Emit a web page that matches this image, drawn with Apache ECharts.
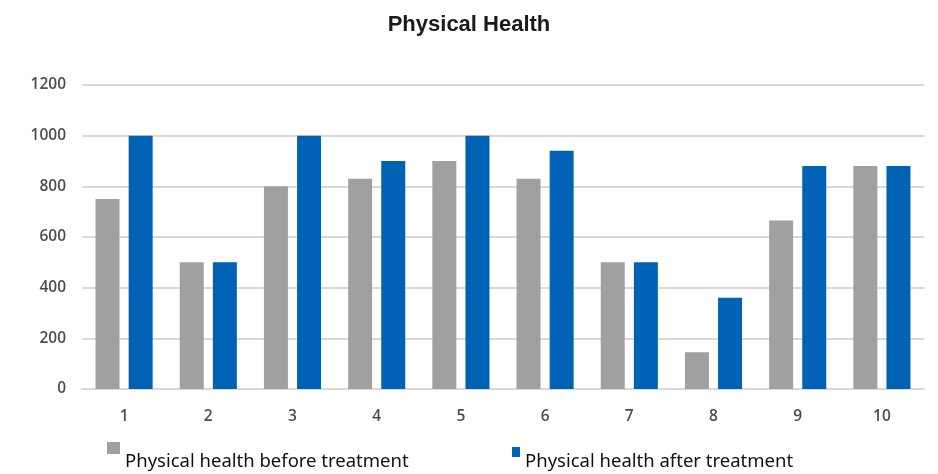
<!DOCTYPE html>
<html lang="en">
  <head>
    <meta charset="UTF-8" />
    <title>Physical Health</title>
    <script src="https://cdn.jsdelivr.net/npm/echarts@6/dist/echarts.min.js"></script>
  </head>
  <body style="margin: 0">
    <div id="main" style="width: 938px; height: 474px"></div>
    <script>
      const categories = ['1', '2', '3', '4', '5', '6', '7', '8', '9', '10'];
      const beforeValues = [750, 500, 800, 830, 900, 830, 500, 145, 665, 880];
      const afterValues = [1000, 500, 1000, 900, 1000, 940, 500, 360, 880, 880];
      const beforeName = 'Physical health before treatment';
      const afterName = 'Physical health after treatment';

      let myCharts = echarts.init(document.getElementById('main'));
      // legend markers sit above the text, so the icon path leaves empty room below
      let legendText = {
        fontFamily: 'Noto Sans',
        fontSize: 18.5,
        color: '#111',
      };
      let labelStyle = {
        fontFamily: 'Open Sans',
        fontWeight: 600,
        fontSize: 15.5,
        color: '#4d4d4d',
      };
      let option = {
        animation: false,
        title: {
          text: 'Physical Health',
          left: 'center',
          top: 9,
          textStyle: {
            fontFamily: 'Liberation Sans',
            fontWeight: 'bold',
            fontSize: 22,
            color: '#1a1a1a',
          },
        },
        legend: [
          {
            data: [beforeName],
            left: 102,
            top: 437,
            itemWidth: 13,
            itemHeight: 40,
            icon: 'path://M0,0H13V12H0Z M0,40L13,40',
            textStyle: legendText,
          },
          {
            data: [afterName],
            left: 507,
            top: 442,
            itemWidth: 8,
            itemHeight: 30,
            icon: 'path://M0,0H8V10H0Z M0,30L8,30',
            textStyle: legendText,
          },
        ],
        grid: {
          left: 82,
          right: 14,
          top: 85,
          bottom: 85,
        },
        xAxis: {
          type: 'category',
          data: categories,
          axisLine: { lineStyle: { color: '#d9d9d9', width: 2 } },
          axisTick: { show: false },
          axisLabel: Object.assign({ margin: 20 }, labelStyle),
        },
        yAxis: {
          type: 'value',
          min: 0,
          max: 1200,
          interval: 200,
          splitLine: { lineStyle: { color: '#d9d9d9', width: 2 } },
          axisLabel: Object.assign(
            { margin: 16, formatter: (v) => String(v) },
            labelStyle
          ),
        },
        series: [
          {
            name: beforeName,
            type: 'bar',
            data: beforeValues,
            barWidth: 24,
            barGap: '38%',
            itemStyle: { color: '#a0a09e' },
          },
          {
            name: afterName,
            type: 'bar',
            data: afterValues,
            barWidth: 24,
            itemStyle: { color: '#0062b4' },
          },
        ],
      };
      myCharts.setOption(option);
    </script>
  </body>
</html>
